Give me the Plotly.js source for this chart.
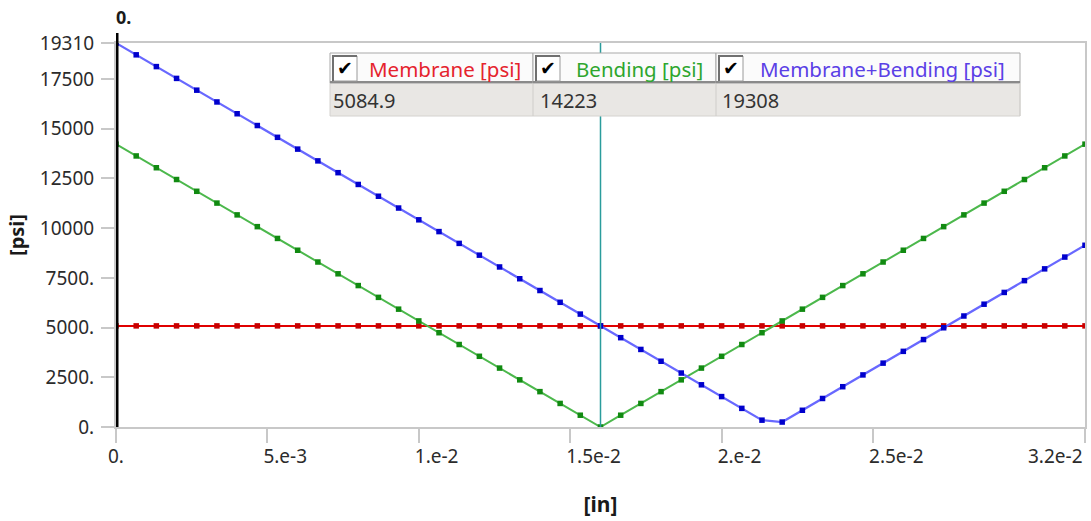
<!DOCTYPE html>
<html>
<head>
<meta charset="utf-8">
<script src="https://cdn.plot.ly/plotly-3.0.1.min.js"></script>
<style>
html,body{margin:0;padding:0;background:#fff;}
#chart{width:1091px;height:521px;}
</style>
</head>
<body>
<div id="chart"></div>
<script>
// ---- data ----
const positionIn = [0, 0.000667, 0.001333, 0.002, 0.002667, 0.003333, 0.004, 0.004667, 0.005333, 0.006,
  0.006667, 0.007333, 0.008, 0.008667, 0.009333, 0.01, 0.010667, 0.011333, 0.012, 0.012667,
  0.013333, 0.014, 0.014667, 0.015333, 0.016, 0.016667, 0.017333, 0.018, 0.018667, 0.019333,
  0.02, 0.020667, 0.021333, 0.022, 0.022667, 0.023333, 0.024, 0.024667, 0.025333, 0.026,
  0.026667, 0.027333, 0.028, 0.028667, 0.029333, 0.03, 0.030667, 0.031333, 0.032];

const membranePsi = [5084.9, 5084.9, 5084.9, 5084.9, 5084.9, 5084.9, 5084.9, 5084.9, 5084.9, 5084.9,
  5084.9, 5084.9, 5084.9, 5084.9, 5084.9, 5084.9, 5084.9, 5084.9, 5084.9, 5084.9,
  5084.9, 5084.9, 5084.9, 5084.9, 5084.9, 5084.9, 5084.9, 5084.9, 5084.9, 5084.9,
  5084.9, 5084.9, 5084.9, 5084.9, 5084.9, 5084.9, 5084.9, 5084.9, 5084.9, 5084.9,
  5084.9, 5084.9, 5084.9, 5084.9, 5084.9, 5084.9, 5084.9, 5084.9, 5084.9];

const bendingPsi = [14223, 13630, 13038, 12445, 11853, 11260, 10667, 10075, 9482, 8889,
  8297, 7704, 7112, 6519, 5926, 5334, 4741, 4148, 3556, 2963,
  2371, 1778, 1185, 593, 0, 593, 1185, 1778, 2371, 2963,
  3556, 4148, 4741, 5334, 5926, 6519, 7112, 7704, 8297, 8889,
  9482, 10075, 10667, 11260, 11853, 12445, 13038, 13630, 14223];

const totalPsi = [19308, 18715, 18123, 17530, 16938, 16345, 15752, 15160, 14567, 13974,
  13382, 12789, 12197, 11604, 11011, 10419, 9826, 9233, 8641, 8048,
  7456, 6863, 6270, 5678, 5085, 4492, 3900, 3307, 2714, 2122,
  1529, 937, 344, 249, 841, 1434, 2026, 2619, 3212, 3804,
  4397, 4990, 5582, 6175, 6767, 7360, 7953, 8545, 9138];

const seriesNames = ["Membrane [psi]", "Bending [psi]", "Membrane+Bending [psi]"];
const probeValues = ["5084.9", "14223", "19308"];
const probeX = 0.016;
const startCursorX = 0;

const xTickVals = [0, 0.005, 0.01, 0.015, 0.02, 0.025, 0.032];
const xTickText = ["", "5.e-3", "1.e-2", "1.5e-2", "2.e-2", "2.5e-2", ""];
const yTickVals = [0, 2500, 5000, 7500, 10000, 12500, 15000, 17500, 19310];
const yTickText = ["0.", "2500.", "5000.", "7500.", "10000", "12500", "15000", "17500", "19310"];

// ---- layout helpers (pixel -> paper) ----
const L = 116, R = 1085, T = 43, B = 427;
const px = x => (x - L) / (R - L);
const py = y => 1 - (y - T) / (B - T);
const FONT = "Noto Sans, DejaVu Sans, sans-serif";

const traces = [
  {x: positionIn, y: membranePsi, name: seriesNames[0], mode: "lines+markers",
   line: {color: "#e00000", width: 2}, marker: {symbol: "square", size: 5.5, color: "#c80000"}},
  {x: positionIn, y: bendingPsi, name: seriesNames[1], mode: "lines+markers",
   line: {color: "#4cb84c", width: 2}, marker: {symbol: "square", size: 5.5, color: "#118a11"}},
  {x: positionIn, y: totalPsi, name: seriesNames[2], mode: "lines+markers",
   line: {color: "#6868ff", width: 2.2}, marker: {symbol: "square", size: 5.5, color: "#0000cc"}}
];

const shapes = [];
const annotations = [];

// probe cursor line (teal)
shapes.push({type: "line", xref: "x", yref: "paper", x0: probeX, x1: probeX, y0: 0, y1: 1,
  line: {color: "#2a9c9c", width: 1.5}, layer: "above"});
// black start cursor
shapes.push({type: "line", xref: "x", yref: "paper", x0: startCursorX, x1: startCursorX, y0: 0, y1: py(33),
  line: {color: "#000000", width: 5}, layer: "above"});
annotations.push({xref: "x", yref: "paper", x: startCursorX, y: py(17), xanchor: "left", yanchor: "middle",
  xshift: -2, text: "<b>0.</b>", showarrow: false, font: {family: FONT, size: 18, color: "#1a1a1a"}});

// probe table
const cols = [[330, 533], [533, 716], [716, 1020]];
const hTop = 53, hBot = 83, vBot = 116;
// value row background
shapes.push({type: "rect", xref: "paper", yref: "paper", x0: px(330), x1: px(1020), y0: py(vBot), y1: py(hBot),
  fillcolor: "#e9e7e4", line: {color: "#d4d2cf", width: 1}, layer: "above"});
cols.forEach((c, i) => {
  // header cell
  shapes.push({type: "rect", xref: "paper", yref: "paper", x0: px(c[0]), x1: px(c[1]), y0: py(hBot), y1: py(hTop),
    fillcolor: "#fbfbfb", line: {color: "#a9a9a9", width: 1}, layer: "above"});
  shapes.push({type: "line", xref: "paper", yref: "paper", x0: px(c[0]), x1: px(c[1]), y0: py(hBot - 1), y1: py(hBot - 1),
    line: {color: "#8a8a8a", width: 2}, layer: "above"});
  // column separator in value row
  shapes.push({type: "line", xref: "paper", yref: "paper", x0: px(c[1]), x1: px(c[1]), y0: py(vBot), y1: py(hBot),
    line: {color: "#cfcdca", width: 1}, layer: "above"});
  // checkbox
  shapes.push({type: "rect", xref: "paper", yref: "paper", x0: px(c[0] + 3), x1: px(c[0] + 27), y0: py(81), y1: py(56),
    fillcolor: "#ffffff", line: {color: "#9a9a9a", width: 1}, layer: "above"});
  shapes.push({type: "path", xref: "paper", yref: "paper",
    path: `M ${px(c[0] + 3)} ${py(81)} L ${px(c[0] + 3)} ${py(56)} L ${px(c[0] + 27)} ${py(56)}`,
    line: {color: "#707070", width: 2}, layer: "above"});
  annotations.push({xref: "paper", yref: "paper", x: px(c[0] + 15), y: py(68), xanchor: "center", yanchor: "middle",
    text: "✔", showarrow: false, font: {family: "DejaVu Sans", size: 19, color: "#000000"}});
});
const headerColors = ["#e5232d", "#2ea62e", "#5a40e6"];
const headerX = [367, 574, 758];
const valueX = [331, 538, 720];
seriesNames.forEach((n, i) => {
  annotations.push({xref: "paper", yref: "paper", x: px(headerX[i]), y: py(69), xanchor: "left", yanchor: "middle",
    text: n, showarrow: false, font: {family: FONT, size: 20.5, color: headerColors[i]}});
  annotations.push({xref: "paper", yref: "paper", x: px(valueX[i]), y: py(100), xanchor: "left", yanchor: "middle",
    text: probeValues[i], showarrow: false, font: {family: FONT, size: 20, color: "#333333"}});
});

// edge x tick labels
annotations.push({xref: "x", yref: "paper", x: xTickVals[0], y: py(441), xanchor: "center", yanchor: "top",
  text: "0.", showarrow: false, font: {family: FONT, size: 19, color: "#2b2b2b"}});
annotations.push({xref: "x", yref: "paper", x: xTickVals[xTickVals.length - 1], y: py(441), xanchor: "right", yanchor: "top",
  text: "3.2e-2", showarrow: false, font: {family: FONT, size: 19, color: "#2b2b2b"}});

const layout = {
  width: 1091, height: 521,
  margin: {l: L, r: 1091 - R, t: T, b: 521 - B, pad: 0},
  paper_bgcolor: "#ffffff", plot_bgcolor: "#ffffff",
  showlegend: false,
  font: {family: FONT, size: 19, color: "#2b2b2b"},
  xaxis: {
    range: [0, 0.032], showgrid: false, zeroline: false,
    showline: true, mirror: true, linecolor: "#c8c8c8", linewidth: 2,
    ticks: "outside", ticklen: 14, tickwidth: 2, tickcolor: "#c8c8c8",
    tickmode: "array", tickvals: xTickVals, ticktext: xTickText,
    ticklabelposition: "outside right", ticklabelstandoff: 11, ticklabelshift: -6,
    tickfont: {family: FONT, size: 19, color: "#2b2b2b"},
    title: {text: "<b>[in]</b>", font: {family: FONT, size: 21, color: "#1a1a1a"}, standoff: 30},
    automargin: false, fixedrange: true
  },
  yaxis: {
    range: [0, 19310], showgrid: false, zeroline: false,
    showline: true, mirror: true, linecolor: "#c8c8c8", linewidth: 2,
    ticks: "outside", ticklen: 13, tickwidth: 2, tickcolor: "#c8c8c8",
    tickmode: "array", tickvals: yTickVals, ticktext: yTickText,
    ticklabelstandoff: 3,
    tickfont: {family: FONT, size: 19, color: "#2b2b2b"},
    title: {text: "<b>[psi]</b>", font: {family: FONT, size: 20, color: "#1a1a1a"}, standoff: 10},
    automargin: false, fixedrange: true
  },
  shapes: shapes,
  annotations: annotations
};

Plotly.newPlot("chart", traces, layout, {displayModeBar: false, staticPlot: true});
</script>
</body>
</html>
